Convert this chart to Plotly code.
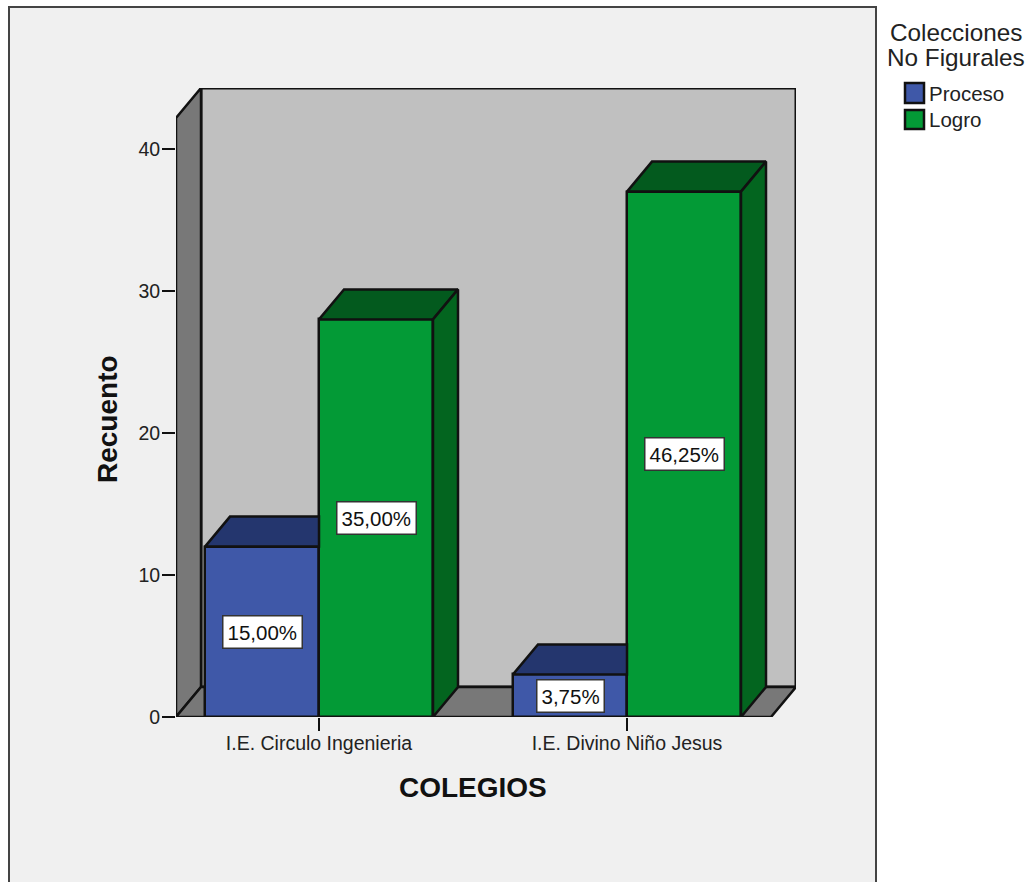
import plotly.graph_objects as go

# Chart data
schools = ["I.E. Circulo Ingenieria", "I.E. Divino Niño Jesus"]
proceso = [12, 3]
logro = [28, 37]
proceso_labels = ["15,00%", "3,75%"]
logro_labels = ["35,00%", "46,25%"]
y_ticks = [0, 10, 20, 30, 40]

# Colours
BLUE, BLUE_TOP = "#3f58a8", "#24366e"
GREEN, GREEN_TOP, GREEN_SIDE = "#039a36", "#035a1e", "#03651f"
WALL, FLOOR, PANEL = "#c0c0c0", "#787878", "#f0f0f0"
EDGE = "#111111"
TEXT = "#222222"

# Page layout in pixels
W, H = 1030, 883
LEFT, RIGHT, TOP, BOTTOM = 176, 796, 88, 717
PX_PER_UNIT_X = 308.0
PX_PER_UNIT_Y = 14.2
DX = 25 / PX_PER_UNIT_X   # horizontal depth of the 3D box
DY = 30 / PX_PER_UNIT_Y   # vertical depth of the 3D box

x_min = (LEFT - 319) / PX_PER_UNIT_X
x_max = (RIGHT - 319) / PX_PER_UNIT_X
y_max = (BOTTOM - TOP) / PX_PER_UNIT_Y
BAR_W = 114 / PX_PER_UNIT_X


def px(x):
    return (x - LEFT) / (RIGHT - LEFT)


def py(y):
    return (BOTTOM - y) / (BOTTOM - TOP)


def polygon(xs, ys, fill):
    return go.Scatter(
        x=xs + xs[:1], y=ys + ys[:1], mode="lines", fill="toself",
        fillcolor=fill, line=dict(color=EDGE, width=2.5),
        hoverinfo="skip", showlegend=False, cliponaxis=False,
    )


def wall(xs, ys, fill, width=2.5):
    pts = " L ".join(f"{a} {b}" for a, b in zip(xs, ys))
    return dict(type="path", xref="x", yref="y", layer="below", path=f"M {pts} Z",
                fillcolor=fill, line=dict(color=EDGE, width=width))


def paper_rect(x0, y0, x1, y1, **kw):
    return dict(type="rect", xref="paper", yref="paper",
                x0=px(x0), x1=px(x1), y0=py(y0), y1=py(y1), **kw)


def paper_text(x, y, text, size, anchor="center", angle=0, color=TEXT):
    return dict(xref="paper", yref="paper", x=px(x), y=py(y), text=text,
                showarrow=False, xanchor=anchor, yanchor="middle", textangle=angle,
                font=dict(family="Liberation Sans", size=size, color=color))


fig = go.Figure()

# Front faces
fig.add_trace(go.Bar(name="Proceso", x=[i - BAR_W / 2 for i in range(2)], y=proceso,
                     width=BAR_W, marker=dict(color=BLUE, line=dict(color=EDGE, width=2.5))))
fig.add_trace(go.Bar(name="Logro", x=[i + BAR_W / 2 for i in range(2)], y=logro,
                     width=BAR_W, marker=dict(color=GREEN, line=dict(color=EDGE, width=2.5))))

# Top and side faces derived from the bar heights
for i, v in enumerate(proceso):
    l, r = i - BAR_W, i
    # the neighbouring green bar hides the right end of this top face
    fig.add_trace(polygon([l, r, r, l + DX], [v, v, v + DY, v + DY], BLUE_TOP))
for i, v in enumerate(logro):
    l, r = i, i + BAR_W
    fig.add_trace(polygon([l, r, r + DX, l + DX], [v, v, v + DY, v + DY], GREEN_TOP))
    fig.add_trace(polygon([r, r + DX, r + DX, r], [0, DY, v + DY, v], GREEN_SIDE))

# Value labels at mid-height of each bar
annotations = []
for i in range(2):
    for cx, v, txt in ((i - BAR_W / 2, proceso[i], proceso_labels[i]),
                       (i + BAR_W / 2, logro[i], logro_labels[i])):
        annotations.append(dict(
            x=cx, y=v / 2, text=txt, showarrow=False,
            font=dict(family="Liberation Sans", size=20.5, color="#111111"),
            bgcolor="#ffffff", bordercolor="#333333", borderwidth=1.5, borderpad=4,
        ))

# Axis titles
annotations.append(paper_text(473, 787, "<b>COLEGIOS</b>", 28, color="#111111"))
annotations.append(paper_text(107, 419, "<b>Recuento</b>", 28, angle=-90, color="#111111"))

# Legend
annotations.append(paper_text(956, 32, "Colecciones", 24.3))
annotations.append(paper_text(956, 57, "No Figurales", 24.3))
annotations.append(paper_text(927, 93, "Proceso", 20.5, anchor="left"))
annotations.append(paper_text(927, 119, "Logro", 20.5, anchor="left"))

floor_right = x_max - DX
shapes = [
    paper_rect(9, 7, 876, 882, fillcolor=PANEL, line_width=0, layer="below"),
    dict(type="path", xref="paper", yref="paper", layer="below",
         path=(f"M {px(9)} {py(882)} L {px(9)} {py(7)} "
               f"L {px(876)} {py(7)} L {px(876)} {py(882)}"),
         line=dict(color="#444444", width=2)),
    # Box walls and floor
    wall([x_min + DX, x_max, x_max, x_min + DX], [DY, DY, y_max, y_max], WALL, width=3),
    wall([x_min, x_min + DX, x_min + DX, x_min], [0, DY, y_max, y_max - DY], FLOOR),
    wall([x_min, floor_right, x_max, x_min + DX], [0, 0, DY, DY], FLOOR),
    # Legend swatches
    paper_rect(905, 83, 924, 103, fillcolor=BLUE, line=dict(color=EDGE, width=2.5)),
    paper_rect(905, 110, 924, 129, fillcolor=GREEN, line=dict(color=EDGE, width=2.5)),
]

fig.update_layout(
    width=W, height=H, autosize=False,
    margin=dict(l=LEFT, r=W - RIGHT, t=TOP, b=H - BOTTOM, pad=0),
    paper_bgcolor="#ffffff", plot_bgcolor="rgba(0,0,0,0)",
    showlegend=False, barmode="overlay", bargap=0,
    annotations=annotations, shapes=shapes,
    xaxis=dict(range=[x_min, x_max], tickmode="array", tickvals=[0, 1], ticktext=schools,
               ticks="outside", ticklen=13, tickwidth=2, tickcolor=EDGE, showgrid=False,
               zeroline=False, showline=False, ticklabelstandoff=-4,
               tickfont=dict(family="Liberation Sans", size=19.5, color=TEXT)),
    yaxis=dict(range=[0, y_max], tickmode="array", tickvals=y_ticks,
               ticks="outside", ticklen=13, tickwidth=2, tickcolor=EDGE, showgrid=False,
               zeroline=False, showline=False, ticklabelstandoff=-2,
               tickfont=dict(family="Liberation Sans", size=19.5, color=TEXT)),
)

fig.write_html("out.html", config=dict(displayModeBar=False))
